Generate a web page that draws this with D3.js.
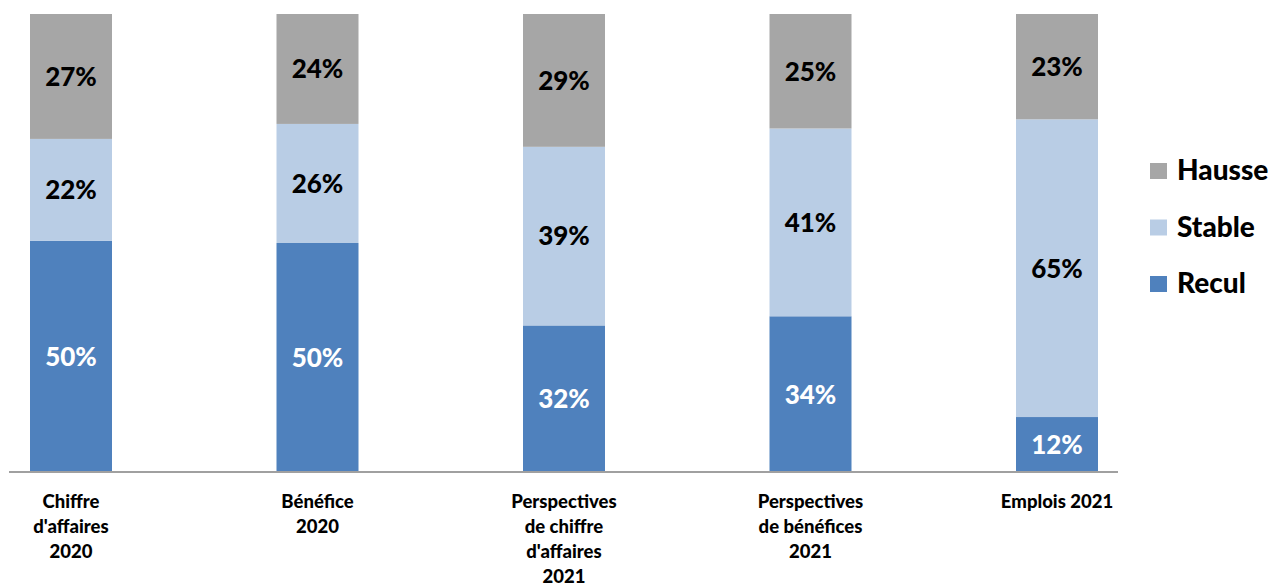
<!DOCTYPE html>
<html>
<head>
<meta charset="utf-8">
<script src="https://cdn.jsdelivr.net/npm/d3@7"></script>
<style>
  body { margin: 0; background: #fff; }
  text { font-family: Lato, "Open Sans", sans-serif; font-weight: 900; }
</style>
</head>
<body>
<svg id="chart" width="1274" height="586"></svg>
<script>
// categories (lines of each x label)
const categories = ['Chiffre d\'affaires 2020', 'Bénéfice 2020', 'Perspectives de chiffre d\'affaires 2021',
  'Perspectives de bénéfices 2021', 'Emplois 2021']
const labelLines = [
  ['Chiffre', 'd\'affaires', '2020'],
  ['Bénéfice', '2020'],
  ['Perspectives', 'de chiffre', 'd\'affaires', '2021'],
  ['Perspectives', 'de bénéfices', '2021'],
  ['Emplois 2021']
]
const series = ['Recul', 'Stable', 'Hausse']
const recul = [50, 50, 32, 34, 12]
const stable = [22, 26, 39, 41, 65]
const hausse = [27, 24, 29, 25, 23]
const colors = ['#4f81bd', '#b9cde5', '#a6a6a6']

const rows = categories.map((c, i) => ({cat: c, Recul: recul[i], Stable: stable[i], Hausse: hausse[i]}))

const svg = d3.select('#chart')
const baseY = 472, topY = 14

// excel 100% stacked: each column is normalized
const stack = d3.stack().keys(series).offset(d3.stackOffsetExpand)
const layers = stack(rows)

const x = d3.scalePoint().domain(categories).range([71, 1057])
const y = d3.scaleLinear().domain([0, 1]).range([baseY, topY])
const barW = 82

let g = svg.append('g')
layers.forEach((layer, k) => {
  g.selectAll('rect.s' + k)
    .data(layer)
    .enter()
    .append('rect')
    .attr('x', d => x(d.data.cat) - barW / 2)
    .attr('y', d => y(d[1]))
    .attr('width', barW)
    .attr('height', d => y(d[0]) - y(d[1]))
    .attr('fill', colors[k])

  g.selectAll('text.s' + k)
    .data(layer)
    .enter()
    .append('text')
    .attr('x', d => x(d.data.cat))
    .attr('y', d => (y(d[0]) + y(d[1])) / 2)
    .attr('dy', '0.36em')
    .attr('text-anchor', 'middle')
    .attr('font-size', 26)
    .attr('fill', k == 0 ? '#fff' : '#000')
    .text(d => d.data[series[k]] + '%')
})

// category axis
const xAxis = svg.append('g')
xAxis.append('line')
  .attr('x1', 9).attr('x2', 1118)
  .attr('y1', baseY).attr('y2', baseY)
  .attr('stroke', '#a0a0a0').attr('stroke-width', 2)

categories.forEach((c, i) => {
  let t = xAxis.append('text')
    .attr('text-anchor', 'middle')
    .attr('font-size', 18.5)
    .attr('fill', '#000')
  labelLines[i].forEach((ln, j) => {
    t.append('tspan')
      .attr('x', x(c))
      .attr('y', 508 + j * 25)
      .text(ln)
  })
})

// legend, Hausse on top
const legend = svg.append('g')
series.slice().reverse().forEach((s, j) => {
  const cy = 171 + j * 56.5
  legend.append('rect')
    .attr('x', 1150).attr('y', cy - 8)
    .attr('width', 17).attr('height', 16)
    .attr('fill', colors[series.indexOf(s)])
  legend.append('text')
    .attr('x', 1177).attr('y', cy + 9)
    .attr('font-size', 28)
    .attr('fill', '#000')
    .text(s)
})
</script>
</body>
</html>
